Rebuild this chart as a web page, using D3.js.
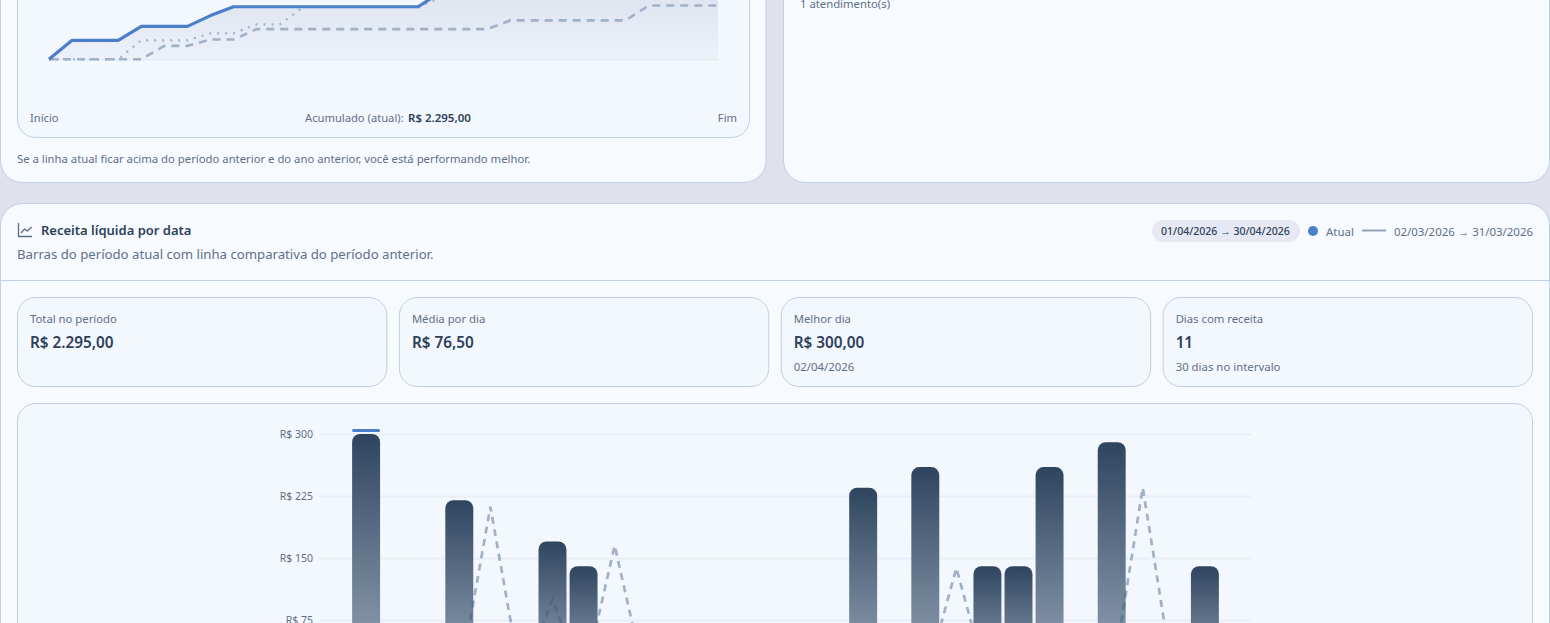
<!DOCTYPE html>
<html lang="pt-BR"><head><meta charset="utf-8">
<script src="https://cdn.jsdelivr.net/npm/d3@7/dist/d3.min.js"></script>
<style>
html,body{margin:0;padding:0;width:1550px;height:623px;overflow:hidden;background:#dfe2ec}
svg{display:block}
text{font-family:"Noto Sans",sans-serif}
</style></head><body>
<svg id="c" width="1550" height="623"></svg>
<script>
const days = d3.range(1,31).map(d => String(d).padStart(2,"0")+"/04");
const currentDaily  = [0,300,0,0,220,0,0,170,140,0,0,0,0,0,0,0,0,235,0,260,0,140,140,260,0,290,0,0,140,0];
const previousDaily = [0,0,0,0,0,212,0,100,0,165,0,0,0,0,0,0,0,0,0,0,138,0,0,0,0,0,235,0,0,0];
const yearAgoDaily  = [0,0,0,0,300,0,0,110,0,142,0,268,0,0,0,0,0,160,0,0,0,0,0,0,0,0,0,0,0,0];
const valueTicks = [75,150,225,300];
const statLabels = ["Total no período","Média por dia","Melhor dia","Dias com receita"];
const statValues = ["R$ 2.295,00","R$ 76,50","R$ 300,00","11"];
const statNotes  = ["","","02/04/2026","30 dias no intervalo"];

const INK="#2d4059", MUTED="#5f6f88", BORDER="#c0cfe6", CARD="#f7faff", INNER="#f3f7fe", BLUE="#4c7fca";
const svg=d3.select("#c"), defs=svg.append("defs");

function box(x,y,w,h,r,fill,stroke=BORDER){
  svg.append("rect").attr("x",x+.5).attr("y",y+.5).attr("width",w).attr("height",h).attr("rx",r)
    .attr("fill",fill).attr("stroke",stroke);
}
function txt(x,y,s,size,fill,weight=400,anchor="start"){
  return svg.append("text").attr("x",x).attr("y",y).attr("font-size",size).attr("fill",fill)
    .attr("font-weight",weight).attr("text-anchor",anchor).text(s);
}

// upper cards
box(0,-400,765.5,582,22,CARD);
box(783,-400,766,582,22,CARD);
box(17,-300,732,437,18,INNER);

// cumulative chart
const xC=d3.scalePoint().domain(days).range([49,718]);
const yC=d3.scaleLinear().domain([0,2295]).range([59.3,-86]);
const lineC=d3.line().x(d=>xC(d.day)).y(d=>yC(d.v));
const cum=a=>Array.from(d3.cumsum(a),(v,i)=>({day:days[i],v}));
const grad=defs.append("linearGradient").attr("id","areaG").attr("gradientUnits","userSpaceOnUse")
  .attr("x1",0).attr("x2",0).attr("y1",yC(2295)).attr("y2",yC(0));
grad.append("stop").attr("offset",0).attr("stop-color","#5b6b92").attr("stop-opacity",.2);
grad.append("stop").attr("offset",.63).attr("stop-color","#5b6b92").attr("stop-opacity",.118);
grad.append("stop").attr("offset",.8).attr("stop-color","#5b6b92").attr("stop-opacity",.09);
grad.append("stop").attr("offset",1).attr("stop-color","#5b6b92").attr("stop-opacity",.04);
svg.append("path").datum(cum(currentDaily)).attr("fill","url(#areaG)")
  .attr("d",d3.area().x(d=>xC(d.day)).y0(yC(0)).y1(d=>yC(d.v)));
svg.append("line").attr("x1",49).attr("x2",718).attr("y1",yC(0)+.5).attr("y2",yC(0)+.5).attr("stroke","#e0e5ef").attr("stroke-width",1);
svg.append("path").datum(cum(previousDaily)).attr("fill","none").attr("stroke","#a0b1c8").attr("stroke-width",2.6)
  .attr("stroke-dasharray","8 6").attr("d",lineC);
svg.append("path").datum(cum(yearAgoDaily)).attr("fill","none").attr("stroke","#a0b1c8").attr("stroke-width",2.2)
  .attr("stroke-dasharray","2 6").attr("d",lineC);
svg.append("path").datum(cum(currentDaily)).attr("fill","none").attr("stroke",BLUE).attr("stroke-width",3.2)
  .attr("stroke-linejoin","round").attr("d",lineC);

txt(30,121.5,"Início",11.2,MUTED);
txt(737,121.5,"Fim",11.2,MUTED,400,"end");
txt(305,121.5,"Acumulado (atual):",11.2,MUTED);
txt(408,121.5,"R$ 2.295,00",11.5,INK,600);
txt(17,162.5,"Se a linha atual ficar acima do período anterior e do ano anterior, você está performando melhor.",11.3,MUTED);
txt(800,7.5,"1 atendimento(s)",11.3,MUTED);

// lower card
box(0,203,1549,800,22,CARD);
svg.append("line").attr("x1",0).attr("x2",1550).attr("y1",280.5).attr("y2",280.5).attr("stroke",BORDER);
svg.append("path").attr("d","M18.5 223v13.5H32M21 233l3.5-4 3 2 4-4").attr("fill","none").attr("stroke","#5a6b85").attr("stroke-width",1.3);
txt(41,235,"Receita líquida por data",13,INK,600);
txt(17,259,"Barras do período atual com linha comparativa do período anterior.",13.18,MUTED);
svg.append("rect").attr("x",1152).attr("y",220).attr("width",148).attr("height",22).attr("rx",11).attr("fill","#e6e9f3");
txt(1161,235,"01/04/2026 → 30/04/2026",10.55,INK,500);
svg.append("circle").attr("cx",1313).attr("cy",231).attr("r",5).attr("fill",BLUE);
txt(1326,235.5,"Atual",11.5,MUTED);
svg.append("line").attr("x1",1362).attr("x2",1386).attr("y1",230.5).attr("y2",230.5).attr("stroke","#93a4bc").attr("stroke-width",2);
txt(1533,235.5,"02/03/2026 → 31/03/2026",11.45,MUTED,400,"end");

// stat cards
const statX=d3.scaleBand().domain(statLabels).range([17,1532+12.5]).paddingInner(0);
statLabels.forEach((l,i)=>{
  const x=statX(l), w=statX.bandwidth()-12.5;
  box(x,297,w,89,18,INNER);
  txt(x+13,323,l,11.3,MUTED);
  txt(x+13,348,statValues[i],15.3,INK,600);
  if(statNotes[i]) txt(x+13,371,statNotes[i],11.4,MUTED);
});

// bar chart
box(17,403,1515,600,18,INNER);
const xB=d3.scaleBand().domain(days).range([319.5,1251.5]).paddingInner(.1).paddingOuter(.05);
const yB=d3.scaleLinear().domain([0,300]).range([682,434]);
const gAxis=svg.append("g").attr("transform","translate(319,0)")
  .call(d3.axisLeft(yB).tickValues(valueTicks).tickSize(-932).tickPadding(6).tickFormat(d=>"R$ "+d));
gAxis.select(".domain").remove();
gAxis.selectAll(".tick line").attr("stroke","#e9eef7").attr("stroke-width",2);
gAxis.selectAll("text").attr("font-size",10.5).attr("fill",MUTED).attr("font-family","Noto Sans");

const barG=defs.append("linearGradient").attr("id","barG").attr("x1",0).attr("x2",0).attr("y1",0).attr("y2",1);
barG.append("stop").attr("offset",0).attr("stop-color","#2f455f");
barG.append("stop").attr("offset",1).attr("stop-color","#9aa9bb");

const barData=days.map((d,i)=>({day:d,v:currentDaily[i]})).filter(d=>d.v>0);
svg.append("g").selectAll("rect").data(barData).join("rect")
  .attr("x",d=>xB(d.day)).attr("width",xB.bandwidth())
  .attr("y",d=>yB(d.v)).attr("height",d=>yB(0)-yB(d.v)).attr("rx",8)
  .attr("fill","url(#barG)");
const best=barData.find(d=>d.v===d3.max(currentDaily));
svg.append("rect").attr("x",xB(best.day)).attr("width",xB.bandwidth()).attr("y",yB(best.v)-5).attr("height",3).attr("rx",1.5).attr("fill",BLUE);
svg.append("path").datum(days.map((d,i)=>({day:d,v:previousDaily[i]}))).attr("fill","none")
  .attr("stroke","rgb(60,90,135)").attr("stroke-opacity",.45).attr("stroke-width",2.7).attr("stroke-dasharray","7 5.5")
  .attr("d",d3.line().x(d=>xB(d.day)+xB.bandwidth()/2).y(d=>yB(d.v)));
</script></body></html>
